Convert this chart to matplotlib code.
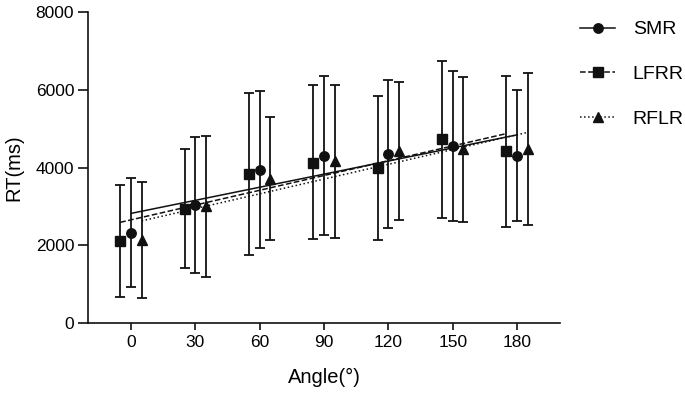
import numpy as np
import matplotlib.pyplot as plt
from matplotlib.lines import Line2D

plt.rcParams['font.family'] = ['Liberation Sans', 'DejaVu Sans']

# 데이터
angles = [0, 30, 60, 90, 120, 150, 180]
offsets = {'SMR': 0, 'LFRR': -5, 'RFLR': 5}

smr_mean = [2310, 3040, 3950, 4310, 4345, 4560, 4310]
smr_upper = [3720, 4790, 5970, 6365, 6245, 6495, 5990]
smr_lower = [920, 1285, 1930, 2255, 2440, 2620, 2620]

lfrr_mean = [2115, 2930, 3830, 4130, 3985, 4730, 4415]
lfrr_upper = [3540, 4480, 5910, 6120, 5835, 6745, 6360]
lfrr_lower = [675, 1405, 1750, 2160, 2140, 2705, 2460]

rflr_mean = [2140, 3010, 3700, 4160, 4430, 4470, 4470]
rflr_upper = [3625, 4825, 5290, 6135, 6215, 6340, 6445]
rflr_lower = [650, 1190, 2140, 2195, 2650, 2605, 2525]

series = [
    ('SMR', smr_mean, smr_upper, smr_lower, 'o', '-'),
    ('LFRR', lfrr_mean, lfrr_upper, lfrr_lower, 's', '--'),
    ('RFLR', rflr_mean, rflr_upper, rflr_lower, '^', ':'),
]

fig = plt.figure(figsize=(6.85, 3.93), dpi=100)
ax = fig.add_axes([0.1285, 0.178, 0.689, 0.791])

handles = []
for name, mean, upper, lower, marker, ls in series:
    x = np.array(angles) + offsets[name]
    m = np.array(mean)
    yerr = [m - np.array(lower), np.array(upper) - m]
    ax.errorbar(x, m, yerr=yerr, fmt=marker, color='#111111', ms=6.8,
                elinewidth=1.3, capsize=3.8, capthick=1.3)
    # 회귀선
    k, b = np.polyfit(x, m, 1)
    xx = np.array([x[0], x[-1]])
    ax.plot(xx, k * xx + b, ls, color='#111111', lw=1.1)
    handles.append(Line2D([], [], color='#111111', ls=ls, lw=1.1,
                          marker=marker, ms=6.8, label=name))

ax.set_xlim(-20, 200)
ax.set_ylim(0, 8000)
ax.set_xticks(angles)
ax.set_yticks([0, 2000, 4000, 6000, 8000])
ax.spines['top'].set_visible(False)
ax.spines['right'].set_visible(False)
for s in ['left', 'bottom']:
    ax.spines[s].set_linewidth(1.2)
    ax.spines[s].set_color('#111111')
ax.tick_params(width=1.2, labelsize=12.5, color='#111111')
ax.tick_params(axis='y', length=7, pad=3)
ax.tick_params(axis='x', length=5, pad=3.5)
ax.set_xlabel('Angle(°)', fontsize=14.5)
ax.set_ylabel('RT(ms)', fontsize=14.5)
ax.xaxis.set_label_coords(0.5, -0.143)
ax.yaxis.set_label_coords(-0.136, 0.5)

fig.legend(handles=handles, loc='upper left', bbox_to_anchor=(0.847, 0.947),
           frameon=False, fontsize=14, borderpad=0, borderaxespad=0,
           handlelength=1.8, handletextpad=0.9, labelspacing=1.4)

fig.savefig('out.png', dpi=100)
